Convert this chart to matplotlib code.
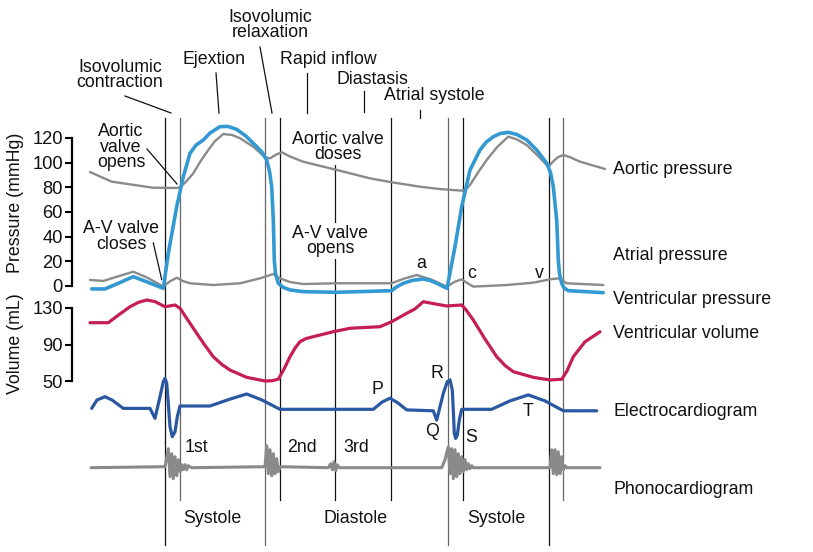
import matplotlib
matplotlib.use("Agg")
import matplotlib.pyplot as plt

plt.rcParams['font.family'] = ['Liberation Sans', 'DejaVu Sans']

W, H, DPI = 813, 552, 100

# ---------------- data (time in diagram units, left to right) ----------------
aortic_t = [90, 111.7, 153, 177, 180, 186, 193.3, 200, 208.3, 215, 223.3, 232, 240, 253.3,
            265, 270, 276, 281.7, 290, 303, 336.7, 370, 391.7, 420, 440, 461.7, 466, 470,
            478, 486.7, 497, 508.3, 517, 526.7, 538, 548.3, 553, 558, 563.3, 570, 580, 605]
aortic_p = [92.4, 84.6, 79.7, 79.5, 80.0, 84.5, 91.4, 100.5, 110.3, 117.5, 123.2, 122.5, 119.8, 112.9,
            104.4, 103.5, 106.5, 108.4, 105.0, 100.8, 94.1, 87.3, 84.1, 80.5, 78.6, 77.3, 78.5, 81.9,
            92.0, 102.2, 112.5, 121.1, 118.8, 114.3, 105.5, 96.7, 100.8, 104.5, 106.2, 104.5, 100.8, 94.9]

atrial_t = [90, 103.3, 118, 133.3, 148, 163.3, 170, 176.7, 183, 190, 213.3, 240, 260, 273.3,
            280, 290, 303.3, 336.7, 391.7, 404, 416.7, 432, 446.7, 455, 461.7, 467, 473.3,
            506.7, 533.3, 550, 558.3, 562, 566.7, 603.3]
atrial_p = [4.9, 4.1, 7.8, 11.6, 6.5, -0.5, 3.8, 6.7, 4.0, 2.2, 0.8, 2.2, 6.2, 9.7,
            6.2, 3.2, 1.6, 2.2, 2.2, 6.0, 8.9, 5.0, -0.5, 3.5, 5.4, 2.5, -0.5,
            0.8, 2.7, 5.4, 6.2, 4.5, 2.2, 0.8]

vent_t = [91.7, 105, 120, 133.3, 148, 163.3, 168.3, 176.7, 183.3, 190, 196, 203.3, 210,
          220, 228, 236.7, 246, 256.7, 262, 266.7, 269.5, 271.7, 273.3, 274.3, 275.5,
          278.3, 283, 290, 303.3, 336.7, 391.7, 396, 403.3, 412, 423.3, 430, 436.7, 447,
          455, 461.7, 470, 480, 486, 493.3, 500, 508.3, 517, 526.7, 537, 546.7, 550.5,
          553.3, 556.7, 558.3, 559.5, 561.7, 564, 568.3, 603.3]
vent_p = [-2.4, -2.4, 2.8, 7.6, 3.0, -1.9, 26.5, 64.3, 88.6, 107.6, 114.2, 118.4, 124.0,
          129.2, 129.4, 127.0, 121.5, 113.0, 108.5, 102.2, 93.0, 80.5, 53.5, 21.0, 10.0,
          2.2, -1.0, -3.2, -4.6, -5.1, -3.8, -1.0, 2.2, 4.5, 5.7, 4.5, 2.2, -1.9,
          31.9, 64.3, 94.0, 110.3, 116.5, 121.0, 123.6, 124.6, 122.8, 118.4, 110.0, 99.5, 92.0,
          80.5, 53.5, 21.0, 10.0, 2.2, -1.5, -3.8, -5.4]

vol_t = [90, 108.3, 120, 130, 138, 146.7, 155, 165, 175, 180, 188, 196.7, 205, 213.3, 222,
         230, 246.7, 265, 272, 278.3, 284, 290, 295, 300, 306, 313.3, 333.3, 350, 380,
         391.7, 406.7, 415, 423.3, 435, 446.7, 461.7, 466, 473.3, 485, 496.7, 505, 513.3,
         533.3, 550, 561.7, 567, 573.3, 585, 600]
vol_ml = [113.9, 113.9, 123.5, 131.4, 136.0, 138.8, 137.0, 131.4, 133.3, 129.7, 116.5, 102.3, 89.0, 76.6, 68.0,
          62.0, 54.0, 50.0, 50.3, 51.9, 63.0, 76.6, 86.0, 93.1, 96.5, 98.6, 104.0, 107.8, 109.5,
          115.0, 124.2, 129.0, 136.9, 134.5, 132.2, 133.3, 128.0, 116.8, 96.0, 76.6, 67.0, 60.2,
          54.0, 51.1, 51.9, 61.0, 76.6, 93.0, 103.9]

ecg_t = [91.7, 97, 105, 112, 123.3, 150, 155, 160, 163.3, 165, 166.7, 168.3, 170, 172.3,
         175, 177.3, 180, 210, 230, 246.7, 262, 280, 373.3, 382, 390, 398, 406.7, 433.3,
         436.7, 443.3, 447.3, 450, 452.3, 453.3, 454.3, 455.7, 457.3, 459.3, 461.7, 491.7,
         510, 528.3, 545, 563.3, 596.7]
ecg_mv = [0.02, 0.30, 0.41, 0.30, 0.02, 0.02, -0.31, 0.41, 0.91, 1.02, 0.86, 0.19, -0.59, -0.92,
          -0.76, -0.26, 0.10, 0.10, 0.33, 0.50, 0.30, -0.01, -0.01, 0.23, 0.36, 0.20, -0.03, -0.06,
          -0.37, 0.52, 0.91, 0.97, 0.63, -0.03, -0.81, -0.98, -0.87, -0.37, -0.01, -0.01,
          0.27, 0.47, 0.27, -0.06, -0.06]

phono_t = [91, 165, 168.3, 170, 171.7, 173.3, 175, 176.7, 178.3, 180, 181.7, 183.3, 185,
           186.7, 188.3, 191.7, 265, 266.7, 268.3, 270, 271.7, 273.3, 275, 276.7, 278.3,
           280, 328.3, 330.7, 332.3, 334, 335.7, 337.3, 339.3, 441.7, 445, 448.3, 450,
           451.7, 453.3, 455, 456.7, 458.3, 460, 461.7, 463.3, 465, 466.7, 468.3, 470,
           471.7, 473.3, 550, 551.7, 553.3, 555, 556.7, 558.3, 560, 561.7, 563.3, 565,
           566.7, 600]
phono_a = [0, 1, 19, -9, 14, -11, 11, -8, 8, -4, 3, -2, 3, -2, 2, 0, 1, 22, -6, 18, -8, 14,
           -6, 9, -4, 1, 0, 4, -2, 6, -3, 3, 0, 0, 8, 21, -6, 19, -11, 18, -9, 14, -6, 11,
           -4, 8, -2, 4, -1, 2, 0, 0, 18, -6, 18, -7, 16, -6, 11, -2, 2, 0, 0]

event_t = [164.5, 179.5, 265, 279.5, 335, 391, 448, 462.5, 548.5, 563]

pressure_ticks = [0, 20, 40, 60, 80, 100, 120]
volume_ticks = [50, 90, 130]

# ---------------- figure ----------------
fig = plt.figure(figsize=(W / DPI, H / DPI), dpi=DPI)


def layer(v0, base_px, px_per_unit):
    ax = fig.add_axes([0, 0, 1, 1])
    ax.set_xlim(0, W)
    ax.set_ylim(v0 - (H - base_px) / px_per_unit, v0 + base_px / px_per_unit)
    ax.patch.set_visible(False)
    for s in ax.spines.values():
        s.set_visible(False)
    ax.set_xticks([])
    ax.set_yticks([])
    return ax


ov = fig.add_axes([0, 0, 1, 1])
ov.set_xlim(0, W)
ov.set_ylim(H, 0)
ov.axis('off')

axp = layer(0, 286, 148 / 120)
axv = layer(50, 381, 73 / 80)
axe = layer(0, 409, 30)
axs = layer(0, 467.7, 1)

for ax, ticks, lo, hi in [(axp, pressure_ticks, 0, 120), (axv, volume_ticks, 50, 130)]:
    sp = ax.spines['left']
    sp.set_visible(True)
    sp.set_position(('data', 72))
    sp.set_bounds(lo, hi)
    sp.set_linewidth(1.6)
    ax.set_yticks(ticks)
    ax.set_yticklabels([str(t) for t in ticks])
    ax.tick_params(axis='y', direction='out', length=5, width=1.5, labelsize=13.2, pad=1.5,
                   labelcolor='#111111')

# vertical event lines
tops = [118, 118, 118, 118, 163, 118, 118, 118, 118, 118]
bots = [545, 500, 545, 500, 500, 500, 545, 500, 545, 500]
cols = ['#111111', '#666666', '#666666', '#111111', '#111111', '#111111', '#666666',
        '#111111', '#111111', '#666666']
for x, t, b, c in zip(event_t, tops, bots, cols):
    ov.plot([x, x], [t, b], color=c, lw=0.9, zorder=1)

gray = '#8a8a8a'
kw = dict(solid_joinstyle='round', solid_capstyle='round')
axp.plot(aortic_t, aortic_p, color=gray, lw=1.7, zorder=3, **kw)
axp.plot(atrial_t, atrial_p, color=gray, lw=1.7, zorder=3, **kw)
axp.plot(vent_t, vent_p, color='#3399d3', lw=2.6, zorder=4, **kw)
axv.plot(vol_t, vol_ml, color='#c51d55', lw=2.3, zorder=4, **kw)
axe.plot(ecg_t, ecg_mv, color='#2b58a3', lw=2.3, zorder=4, **kw)
axs.plot(phono_t, phono_a, color=gray, lw=2.2, zorder=4, **kw)

fs = 12.8
tk = dict(ha='center', va='center', fontsize=fs, linespacing=0.9, color='#111111')

# axis titles
ov.text(15, 203, 'Pressure (mmHg)', rotation=90, **tk)
ov.text(15, 344, 'Volume (mL)', rotation=90, **tk)

# right-hand labels
for y, s in [(170, 'Aortic pressure'), (256, 'Atrial pressure'), (299, 'Ventricular pressure'),
             (333, 'Ventricular volume'), (412, 'Electrocardiogram'), (490, 'Phonocardiogram')]:
    ov.text(613, y, s, ha='left', va='center', fontsize=fs, color='#111111')

# phase labels with pointers
phases = [('Isovolumic\ncontraction', 120, 75, (125, 96), (171, 113)),
          ('Ejextion', 214, 59, (216, 73), (219, 113)),
          ('Isovolumic\nrelaxation', 270, 25, (260, 47), (272, 113)),
          ('Rapid inflow', 328, 60, (306.7, 73), (306.7, 113)),
          ('Diastasis', 372, 79, (363.7, 91), (363.7, 112)),
          ('Atrial systole', 434, 96, (420, 110), (420, 118)),
          ('Aortic\nvalve\nopens', 121, 147, (147, 149), (177, 184)),
          ('A-V valve\ncloses', 121, 236.5, (153.3, 243), (161.7, 279.5))]
for s, x, y, p0, p1 in phases:
    ov.text(x, y, s, **tk)
    ov.plot([p0[0], p1[0]], [p0[1], p1[1]], color='#111111', lw=0.9)

ov.text(338, 147, 'Aortic valve\ndoses', zorder=6,
        bbox=dict(facecolor='white', edgecolor='none', pad=1), **tk)
ov.text(330, 241, 'A-V valve\nopens', zorder=6,
        bbox=dict(facecolor='white', edgecolor='none', pad=1), **tk)

for s, x, y in [('a', 421, 264), ('c', 472, 273), ('v', 539, 273),
                ('P', 377.7, 390), ('R', 436.7, 373), ('Q', 431.7, 432), ('S', 470.7, 437),
                ('T', 528.3, 411.5),
                ('1st', 196.7, 448), ('2nd', 301.7, 448), ('3rd', 356.7, 447.5),
                ('Systole', 212.7, 518.5), ('Diastole', 355.7, 518.5), ('Systole', 496, 518.5)]:
    ov.text(x, y, s, **tk)

fig.savefig('out.png', dpi=DPI)
